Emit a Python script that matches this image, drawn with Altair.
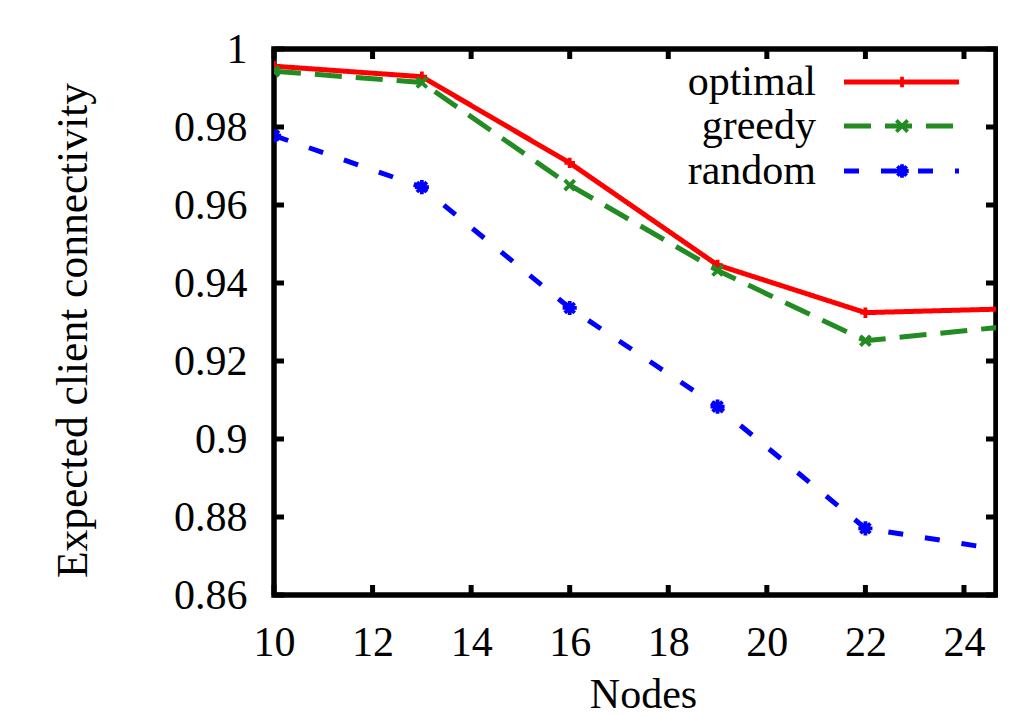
import altair as alt
import pandas as pd

# ---- data ----
nodes = [10, 13, 16, 19, 22, 25]
optimal = [0.9956, 0.9929, 0.9708, 0.9446, 0.9324, 0.9334]
greedy = [0.9943, 0.9914, 0.9651, 0.9432, 0.9252, 0.9290]
random_ = [0.9778, 0.9646, 0.9336, 0.9083, 0.8771, 0.8711]

series_names = ["optimal", "greedy", "random"]
series_colors = ["#ff0000", "#228b22", "#0000ff"]
series_dashes = [[1, 0], [27, 14], [15, 22]]
series_shapes = [
    "M-1,0L1,0M0,-1L0,1",
    "M-0.8,-0.8L0.8,0.8M0.8,-0.8L-0.8,0.8",
    "M-1,0L1,0M0,-1L0,1M-0.7,-0.7L0.7,0.7M0.7,-0.7L-0.7,0.7",
]
series_sizes = [110, 200, 180]

x_ticks = [10, 12, 14, 16, 18, 20, 22, 24]
y_ticks = [0.86, 0.88, 0.90, 0.92, 0.94, 0.96, 0.98, 1.0]

x_title = "Nodes"
y_title = "Expected client connectivity"

# ---- layout ----
W, H = 722, 546
FONT = "Liberation Serif"
FS = 42

rows = []
for name, vals in zip(series_names, [optimal, greedy, random_]):
    for n, v in zip(nodes, vals):
        rows.append({"series": name, "nodes": n, "value": v})
df = pd.DataFrame(rows)

xscale = alt.Scale(domain=[10, 24.65], nice=False, zero=False)
yscale = alt.Scale(domain=[0.86, 1.0], nice=False, zero=False)

color = alt.Color("series:N", scale=alt.Scale(domain=series_names, range=series_colors), legend=None)
dash = alt.StrokeDash("series:N", scale=alt.Scale(domain=series_names, range=series_dashes), legend=None)
shape = alt.Shape("series:N", scale=alt.Scale(domain=series_names, range=series_shapes), legend=None)
size = alt.Size("series:N", scale=alt.Scale(domain=series_names, range=series_sizes), legend=None)

xaxis = alt.Axis(
    values=x_ticks, grid=False, domain=False, ticks=False, tickSize=0, labelFlush=False,
    labelFont=FONT, labelFontSize=FS, labelColor="black", labelPadding=27,
    title=x_title, titleFont=FONT, titleFontSize=FS, titleFontWeight="normal",
    titleColor="black", titleX=369, titleY=79, titleBaseline="top", titleAlign="center",
)
yaxis = alt.Axis(
    values=y_ticks, format="~g", grid=False, domain=False, ticks=False, tickSize=0,
    labelFlush=False,
    labelFont=FONT, labelFontSize=FS, labelColor="black", labelPadding=27,
    title=y_title, titleFont=FONT, titleFontSize=43.5, titleFontWeight="normal",
    titleColor="black", titleX=-188, titleY=281, titleBaseline="alphabetic",
    titleAlign="center", titleAngle=270,
)

X = alt.X("nodes:Q", scale=xscale, axis=xaxis, title=x_title)
Y = alt.Y("value:Q", scale=yscale, axis=yaxis, title=y_title)

base = alt.Chart(df)
lines = base.mark_line(clip=True, strokeWidth=5, strokeCap="butt").encode(
    x=X, y=Y, color=color, strokeDash=dash, order=alt.Order("nodes:Q"),
)
points = base.mark_point(clip=True, filled=False, strokeWidth=3.8, opacity=1).encode(
    x=X, y=Y, color=color, shape=shape, size=size,
)

# inward tick marks (gnuplot style), placed through the scales
xt = pd.DataFrame({"nodes": x_ticks})
yt = pd.DataFrame({"value": y_ticks})
TL = 10
tick_style = dict(color="black", strokeWidth=5)
bottom_ticks = alt.Chart(xt).mark_rule(**tick_style).encode(
    x=X, y=alt.value(H), y2=alt.value(H - TL))
top_ticks = alt.Chart(xt).mark_rule(**tick_style).encode(
    x=X, y=alt.value(0), y2=alt.value(TL))
left_ticks = alt.Chart(yt).mark_rule(**tick_style).encode(
    y=Y, x=alt.value(0), x2=alt.value(TL))
right_ticks = alt.Chart(yt).mark_rule(**tick_style).encode(
    y=Y, x=alt.value(W), x2=alt.value(W - TL))

# key (label on the left, sample on the right)
key_layers = []
row_y = [33, 77, 122]
for i, name in enumerate(series_names):
    kdf = pd.DataFrame({"series": [name]})
    kb = alt.Chart(kdf)
    key_layers.append(kb.mark_text(align="right", baseline="middle", font=FONT, fontSize=FS,
                                   color="black").encode(
        x=alt.value(542), y=alt.value(row_y[i]), text="series:N"))
    key_layers.append(kb.mark_rule(strokeWidth=5, strokeCap="butt", color=series_colors[i],
                                   strokeDash=series_dashes[i]).encode(
        x=alt.value(570), x2=alt.value(685), y=alt.value(row_y[i])))
    key_layers.append(kb.mark_point(filled=False, strokeWidth=3.8, opacity=1,
                                    color=series_colors[i], shape=series_shapes[i],
                                    size=series_sizes[i]).encode(
        x=alt.value(628), y=alt.value(row_y[i])))

chart = alt.layer(
    lines, points, bottom_ticks, top_ticks, left_ticks, right_ticks, *key_layers
).properties(
    width=W, height=H,
    autosize=alt.AutoSizeParams(type="none"),
    padding={"left": 266, "top": 41, "right": 2, "bottom": 124},
    background="white",
).configure_view(stroke="black", strokeWidth=5.5)

chart.save("out.html", embed_options={"renderer": "svg", "actions": False})
